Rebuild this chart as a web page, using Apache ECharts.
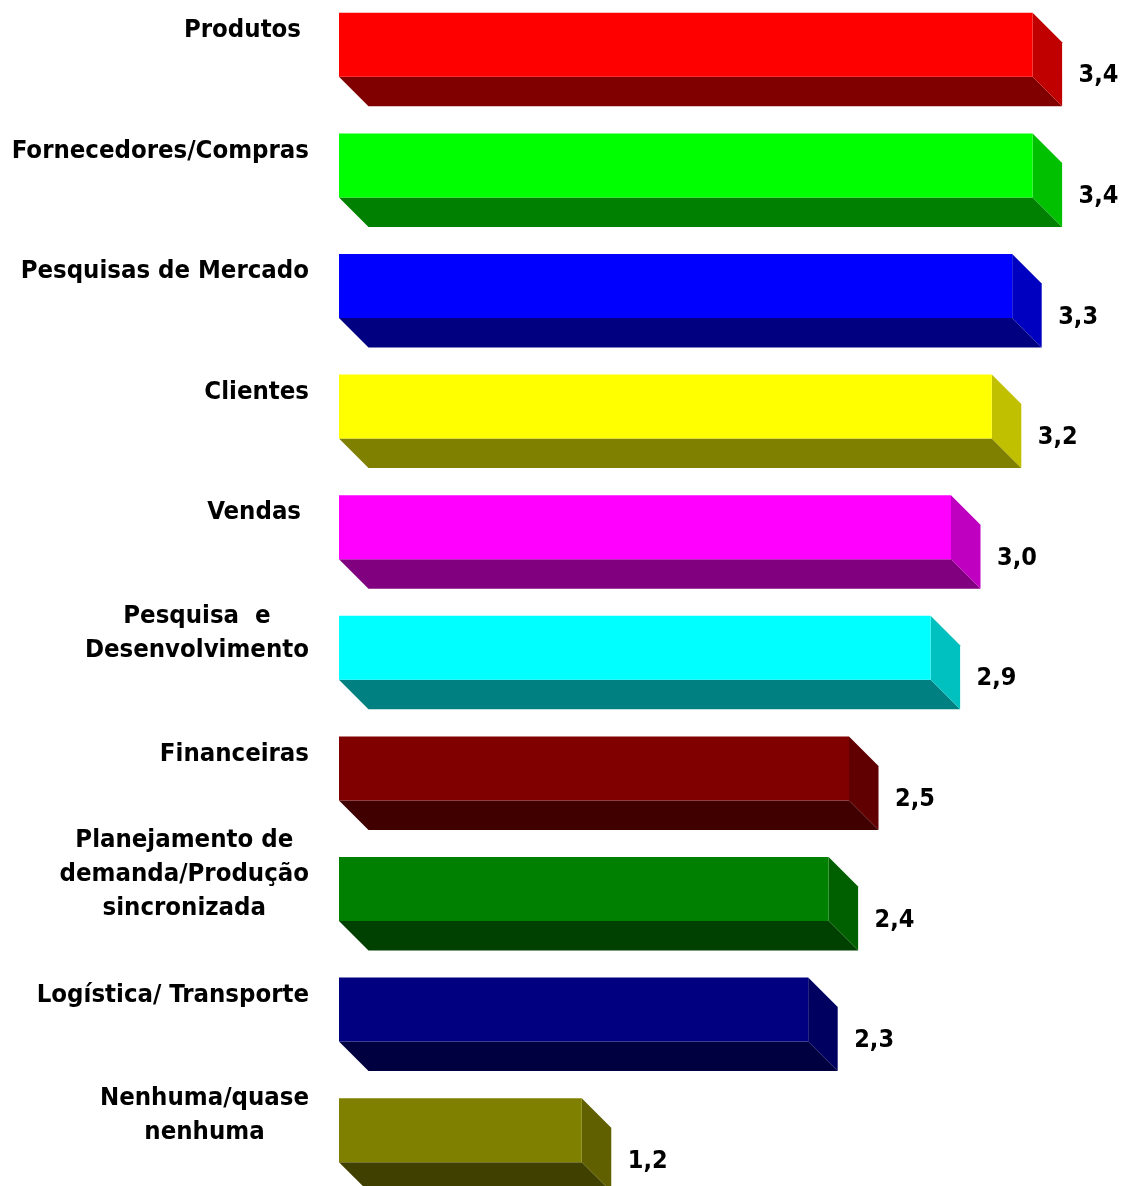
<!DOCTYPE html>
<html>
<head>
<meta charset="utf-8">
<script src="https://cdn.jsdelivr.net/npm/echarts@6/dist/echarts.min.js"></script>
<style>
  html, body { margin: 0; padding: 0; background: #ffffff; }
  #chart { width: 1128px; height: 1186px; }
</style>
</head>
<body>
<div id="chart"></div>
<script>
// data
const categories = [
  'Produtos ',
  'Fornecedores/Compras',
  'Pesquisas de Mercado',
  'Clientes',
  'Vendas ',
  'Pesquisa  e\nDesenvolvimento',
  'Financeiras',
  'Planejamento de\ndemanda/Produção\nsincronizada',
  'Logística/ Transporte',
  'Nenhuma/quase\nnenhuma'
]
const values = [3.4, 3.4, 3.3, 3.2, 3.0, 2.9, 2.5, 2.4, 2.3, 1.19]

// face colours of each 3D bar
const frontColors = ['#FF0000', '#00FF00', '#0000FF', '#FFFF00', '#FF00FF', '#00FFFF', '#800000', '#008000', '#000080', '#808000']
const sideColors = ['#C00000', '#00C000', '#0000C0', '#C0C000', '#C000C0', '#00C0C0', '#600000', '#006000', '#000060', '#606000']
const bottomColors = ['#800000', '#008000', '#000080', '#808000', '#800080', '#008080', '#400000', '#004000', '#000040', '#404000']

const FONT = "'DejaVu Sans Condensed', 'DejaVu Sans', sans-serif"
const FRONT_H = 64
const DEPTH = 29.5

const fmt = v => v.toFixed(1).replace('.', ',')

const renderBar = (params, api) => {
  const i = api.value(1)
  const start = api.coord([0, i])
  const end = api.coord([api.value(0), i])
  const x0 = start[0]
  const x1 = end[0]
  const top = start[1] - 46.5
  const bot = top + FRONT_H
  const d = DEPTH
  return {
    type: 'group',
    children: [
      {
        type: 'polygon',
        shape: { points: [[x0, bot], [x1, bot], [x1 + d, bot + d], [x0 + d, bot + d]] },
        style: { fill: bottomColors[i] }
      },
      {
        type: 'polygon',
        shape: { points: [[x1, top], [x1 + d, top + d], [x1 + d, bot + d], [x1, bot]] },
        style: { fill: sideColors[i] }
      },
      {
        type: 'rect',
        shape: { x: x0, y: top, width: x1 - x0, height: FRONT_H },
        style: { fill: frontColors[i] }
      },
      {
        type: 'text',
        x: x1 + 46,
        y: start[1] + 16.5,
        style: {
          text: fmt(api.value(0)),
          fill: '#000000',
          fontFamily: FONT,
          fontWeight: 'bold',
          fontSize: 25,
          align: 'left',
          verticalAlign: 'middle'
        }
      }
    ]
  }
}

const chart = echarts.init(document.getElementById('chart'))
chart.setOption({
  backgroundColor: '#ffffff',
  animation: false,
  grid: {
    left: 339,
    top: -1,
    width: 714,
    height: 1206,
    outerBoundsMode: 'none'
  },
  xAxis: {
    type: 'value',
    min: 0,
    max: 3.5,
    show: false
  },
  yAxis: {
    type: 'category',
    data: categories,
    inverse: true,
    axisLine: { show: false },
    axisTick: { show: false },
    splitLine: { show: false },
    axisLabel: {
      interval: 0,
      margin: 30,
      padding: [0, 0, 58, 0],
      formatter: value => value.split('\n').map(l => '{c|' + l + '}').join('\n'),
      rich: {
        c: {
          fontFamily: FONT,
          fontWeight: 'bold',
          fontSize: 25.5,
          lineHeight: 34,
          color: '#000000',
          align: 'center'
        }
      }
    }
  },
  series: [
    {
      type: 'custom',
      renderItem: renderBar,
      encode: { x: 0, y: 1 },
      data: values.map((v, i) => [v, i])
    }
  ]
})
</script>
</body>
</html>
